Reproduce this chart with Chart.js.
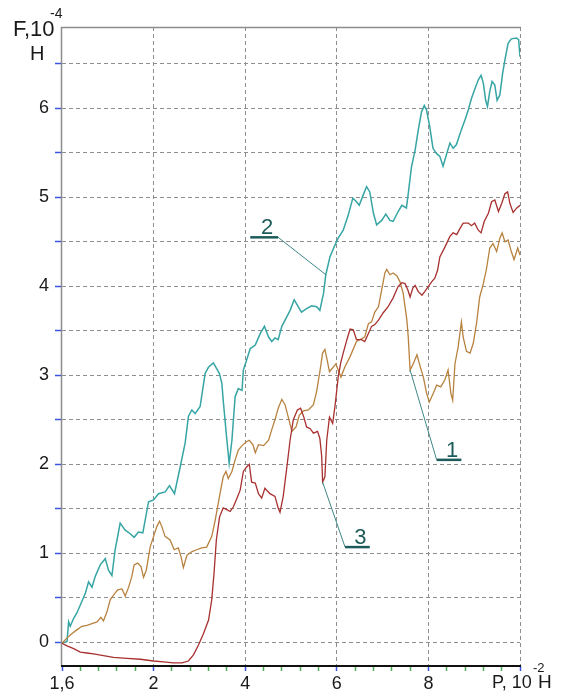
<!DOCTYPE html>
<html>
<head>
<meta charset="utf-8">
<script src="https://cdn.jsdelivr.net/npm/chart.js@4.4.1/dist/chart.umd.min.js"></script>
<style>
html,body{margin:0;padding:0;background:#fff;}
canvas{display:block;}
</style>
</head>
<body>
<canvas id="c" width="564" height="693"></canvas>
<script>
// Friction force F (10^-4 N) against load P (10^-2 N), [P, F] pairs.
const curve1 = [
  [1.600,-0.01],[1.622,0.05],[1.644,0.10],[1.665,0.14],[1.687,0.18],[1.709,0.19],[1.731,0.21],[1.753,0.23],
  [1.770,0.28],[1.781,0.24],[1.796,0.34],[1.811,0.48],[1.825,0.53],[1.843,0.59],[1.862,0.60],[1.876,0.52],
  [1.891,0.62],[1.905,0.74],[1.915,0.87],[1.930,0.89],[1.945,0.85],[1.956,0.73],[1.968,0.81],[1.985,1.07],
  [2.000,1.19],[2.07,1.30],[2.13,1.36],[2.18,1.30],[2.25,1.19],[2.36,1.15],[2.45,1.04],[2.54,1.06],
  [2.60,0.96],[2.65,0.84],[2.73,0.98],[2.84,1.02],[2.94,1.04],[3.05,1.06],[3.16,1.07],[3.27,1.19],
  [3.34,1.36],[3.45,1.67],[3.52,1.86],[3.58,1.92],[3.63,1.84],[3.71,1.92],[3.78,2.05],[3.85,2.16],
  [3.93,2.21],[4.02,2.25],[4.09,2.27],[4.17,2.22],[4.22,2.13],[4.29,2.22],[4.40,2.21],[4.51,2.27],
  [4.58,2.39],[4.65,2.50],[4.72,2.63],[4.80,2.73],[4.87,2.67],[4.94,2.53],[5.02,2.37],[5.11,2.42],
  [5.18,2.55],[5.27,2.60],[5.38,2.61],[5.49,2.67],[5.56,2.82],[5.63,3.04],[5.69,3.25],[5.74,3.29],
  [5.79,3.17],[5.84,3.04],[5.92,3.09],[5.98,3.13],[6.03,3.06],[6.09,2.98],[6.18,3.10],[6.29,3.21],
  [6.43,3.38],[6.61,3.43],[6.69,3.58],[6.76,3.60],[6.83,3.71],[6.91,3.77],[6.98,3.96],[7.05,4.15],
  [7.09,4.19],[7.16,4.13],[7.23,4.15],[7.31,4.12],[7.38,4.05],[7.45,3.92],[7.53,3.62],[7.56,3.43],
  [7.60,3.06],[7.67,3.13],[7.75,3.23],[7.82,3.10],[7.89,2.98],[7.96,2.80],[8.02,2.70],[8.11,2.80],
  [8.18,2.89],[8.27,2.87],[8.36,2.95],[8.43,3.06],[8.49,2.80],[8.53,2.72],[8.58,3.13],[8.65,3.32],
  [8.72,3.60],[8.76,3.43],[8.83,3.27],[8.91,3.25],[8.98,3.36],[9.05,3.58],[9.12,3.88],[9.20,4.03],
  [9.27,4.20],[9.34,4.43],[9.41,4.48],[9.49,4.39],[9.56,4.54],[9.61,4.60],[9.67,4.50],[9.74,4.52],
  [9.81,4.39],[9.87,4.30],[9.95,4.43],[10.00,4.35]
];

const curve2 = [
  [1.600,-0.01],[1.622,0.01],[1.629,0.23],[1.636,0.18],[1.651,0.27],[1.665,0.33],[1.680,0.42],[1.702,0.55],
  [1.716,0.68],[1.731,0.62],[1.745,0.74],[1.767,0.87],[1.789,0.94],[1.803,0.81],[1.818,0.75],[1.832,1.04],
  [1.854,1.34],[1.876,1.26],[1.898,1.22],[1.915,1.18],[1.934,1.24],[1.953,1.23],[1.978,1.58],[2.000,1.60],
  [2.107,1.67],[2.253,1.69],[2.347,1.76],[2.456,1.67],[2.580,1.97],[2.689,2.24],[2.761,2.54],[2.835,2.61],
  [2.907,2.57],[3.016,2.65],[3.125,3.02],[3.197,3.09],[3.306,3.14],[3.437,3.02],[3.49,2.91],[3.52,2.72],
  [3.60,2.27],[3.65,2.01],[3.71,2.27],[3.78,2.76],[3.85,2.85],[3.93,2.83],[3.96,3.06],[4.03,3.17],
  [4.11,3.30],[4.22,3.34],[4.33,3.47],[4.42,3.55],[4.51,3.43],[4.58,3.38],[4.65,3.42],[4.72,3.40],
  [4.80,3.55],[4.91,3.66],[4.98,3.73],[5.07,3.85],[5.16,3.77],[5.23,3.71],[5.34,3.75],[5.45,3.78],
  [5.56,3.77],[5.63,3.73],[5.71,3.92],[5.76,4.13],[5.85,4.33],[5.94,4.44],[6.03,4.54],[6.14,4.63],
  [6.25,4.80],[6.35,4.99],[6.43,4.95],[6.49,4.91],[6.58,5.03],[6.65,5.12],[6.72,5.06],[6.80,4.82],
  [6.87,4.69],[6.98,4.74],[7.07,4.81],[7.16,4.74],[7.23,4.73],[7.34,4.84],[7.42,4.91],[7.52,4.88],
  [7.56,5.04],[7.63,5.34],[7.71,5.53],[7.78,5.76],[7.85,5.96],[7.91,6.03],[7.96,5.98],[8.03,5.79],
  [8.10,5.55],[8.18,5.49],[8.25,5.46],[8.32,5.35],[8.40,5.49],[8.47,5.61],[8.54,5.55],[8.61,5.59],
  [8.72,5.76],[8.80,5.87],[8.87,5.98],[8.94,6.11],[9.01,6.21],[9.09,6.32],[9.15,6.37],[9.20,6.28],
  [9.25,6.09],[9.29,6.02],[9.34,6.19],[9.39,6.30],[9.45,6.26],[9.50,6.09],[9.56,6.15],[9.62,6.39],
  [9.67,6.54],[9.74,6.73],[9.81,6.78],[9.92,6.79],[9.97,6.77],[10.00,6.58]
];

const curve3 = [
  [1.600,-0.01],[1.622,-0.04],[1.651,-0.07],[1.680,-0.11],[1.709,-0.12],[1.738,-0.13],[1.781,-0.15],[1.825,-0.17],
  [1.884,-0.18],[1.942,-0.19],[2.00,-0.21],[2.22,-0.22],[2.43,-0.23],[2.62,-0.23],[2.76,-0.21],[2.87,-0.14],
  [2.98,-0.03],[3.09,0.10],[3.20,0.25],[3.27,0.48],[3.32,0.78],[3.37,1.15],[3.44,1.41],[3.52,1.51],
  [3.60,1.49],[3.67,1.47],[3.74,1.52],[3.82,1.62],[3.89,1.71],[3.96,1.92],[4.03,1.97],[4.09,2.00],
  [4.14,1.80],[4.22,1.79],[4.29,1.67],[4.36,1.62],[4.43,1.73],[4.54,1.67],[4.65,1.64],[4.72,1.51],
  [4.76,1.46],[4.83,1.64],[4.91,1.97],[4.98,2.27],[5.05,2.50],[5.14,2.61],[5.21,2.63],[5.28,2.53],
  [5.34,2.42],[5.42,2.40],[5.49,2.35],[5.58,2.37],[5.63,2.29],[5.67,2.09],[5.69,1.80],[5.74,1.86],
  [5.78,2.27],[5.84,2.53],[5.91,2.46],[5.96,2.65],[6.03,2.98],[6.09,3.15],[6.14,3.25],[6.22,3.40],
  [6.29,3.52],[6.36,3.51],[6.43,3.40],[6.54,3.40],[6.61,3.38],[6.69,3.47],[6.76,3.55],[6.83,3.57],
  [6.91,3.62],[7.01,3.70],[7.12,3.77],[7.23,3.87],[7.34,4.00],[7.42,4.04],[7.49,4.03],[7.55,3.96],
  [7.60,3.88],[7.66,3.98],[7.71,4.01],[7.78,3.94],[7.86,3.90],[7.92,3.94],[8.00,4.00],[8.07,4.05],
  [8.14,4.09],[8.20,4.18],[8.25,4.33],[8.36,4.44],[8.47,4.56],[8.54,4.60],[8.62,4.58],[8.69,4.65],
  [8.76,4.71],[8.87,4.71],[8.94,4.68],[9.01,4.71],[9.09,4.63],[9.15,4.60],[9.22,4.73],[9.31,4.82],
  [9.38,4.95],[9.45,4.97],[9.53,4.84],[9.60,4.93],[9.67,5.04],[9.73,5.06],[9.78,4.93],[9.85,4.83],
  [9.93,4.88],[10.00,4.91]
];

// Major divisions of the P axis (the first one spans 1.6..2, the rest 2 units each)
const xTickValues = [1.6, 2, 4, 6, 8, 10];
const xTickLabels = ['1,6', '2', '4', '6', '8', ''];
const xMinorPerDivision = 5;

const yTickValues = [0, 0.5, 1, 1.5, 2, 2.5, 3, 3.5, 4, 4.5, 5, 5.5, 6, 6.5];
const yTickLabels = ['0', '', '1', '', '2', '', '3', '', '4', '', '5', '', '6', ''];

// Curve number labels: underline ends and the point on the curve they point to
const callouts = [
  { text: '2', from: [4.11, 4.55], to: [4.72, 4.55], target: [5.76, 4.13] },
  { text: '1', from: [8.18, 2.05], to: [8.72, 2.05], target: [7.60, 3.06] },
  { text: '3', from: [6.18, 1.07], to: [6.72, 1.07], target: [5.69, 1.80] }
];

// Piecewise mapping of P onto evenly spaced axis divisions
function pToAxis(p) {
  const n = xTickValues.length;
  for (let i = 1; i < n; i++) {
    if (p <= xTickValues[i] || i === n - 1) {
      const a = xTickValues[i - 1], b = xTickValues[i];
      return (i - 1) + (p - a) / (b - a);
    }
  }
}

const xAxisPositions = [];
for (let i = 0; i < xTickValues.length - 1; i++) {
  for (let k = 0; k < xMinorPerDivision; k++) xAxisPositions.push(i + k / xMinorPerDivision);
}
xAxisPositions.push(xTickValues.length - 1);

const isMajor = v => Math.abs(v - Math.round(v)) < 1e-6;
const toPoints = arr => arr.map(([p, f]) => ({ x: pToAxis(p), y: f }));

const FONT = "'Liberation Sans', Arial, sans-serif";
Chart.defaults.font.family = FONT;

const frame = {
  id: 'frame',
  beforeDatasetsDraw(chart) {
    const { ctx, chartArea: a } = chart;
    ctx.save();
    ctx.setLineDash([]);
    // top edge and left axis, solid grey
    ctx.strokeStyle = '#8c8c8c';
    ctx.lineWidth = 1.5;
    ctx.beginPath();
    ctx.moveTo(a.right + 1, a.top + 0.5);
    ctx.lineTo(a.left - 0.5, a.top + 0.5);
    ctx.lineTo(a.left - 0.5, a.bottom);
    ctx.stroke();
    ctx.restore();
  },
  afterDraw(chart) {
    const { ctx, scales, chartArea: a } = chart;
    const px = (p) => scales.x.getPixelForValue(pToAxis(p));
    const py = (f) => scales.y.getPixelForValue(f);

    ctx.save();
    ctx.setLineDash([]);
    // bottom axis, solid dark
    ctx.strokeStyle = '#111';
    ctx.lineWidth = 2;
    ctx.beginPath();
    ctx.moveTo(a.left - 1, a.bottom);
    ctx.lineTo(a.right + 1, a.bottom);
    ctx.stroke();

    // curve number callouts
    callouts.forEach(c => {
      const x1 = px(c.from[0]), x2 = px(c.to[0]), y = py(c.from[1]);
      const tx = px(c.target[0]), ty = py(c.target[1]);
      const jx = Math.abs(tx - x1) < Math.abs(tx - x2) ? x1 : x2;
      ctx.strokeStyle = '#3f8686';
      ctx.lineWidth = 1;
      ctx.beginPath();
      ctx.moveTo(jx, y);
      ctx.lineTo(tx, ty);
      ctx.stroke();
      ctx.strokeStyle = '#1d5b5b';
      ctx.lineWidth = 2.5;
      ctx.beginPath();
      ctx.moveTo(x1, y);
      ctx.lineTo(x2, y);
      ctx.stroke();
      ctx.fillStyle = '#1d5b5b';
      ctx.font = '22px ' + FONT;
      ctx.textAlign = 'center';
      ctx.textBaseline = 'alphabetic';
      ctx.fillText(c.text, (x1 + x2) / 2 + 3, y - 3);
    });

    // axis titles
    ctx.fillStyle = '#1a1a1a';
    ctx.textAlign = 'left';
    ctx.textBaseline = 'alphabetic';
    ctx.font = '22px ' + FONT;
    ctx.fillText('F,10', 13, 36);
    ctx.font = '14px ' + FONT;
    ctx.fillText('-4', 50, 18);
    ctx.font = '20px ' + FONT;
    ctx.fillText('Н', 30, 60);

    ctx.font = '18px ' + FONT;
    ctx.fillText('P, 10', 492, 688);
    ctx.font = '13px ' + FONT;
    ctx.fillText('-2', 533, 672);
    ctx.font = '19px ' + FONT;
    ctx.fillText('Н', 538, 688);
    ctx.restore();
  }
};

new Chart(document.getElementById('c'), {
  type: 'line',
  data: {
    datasets: [
      { label: '2', data: toPoints(curve2), borderColor: '#36a5a4', borderWidth: 1.5, order: 3 },
      { label: '1', data: toPoints(curve1), borderColor: '#b8823e', borderWidth: 1.3, order: 2 },
      { label: '3', data: toPoints(curve3), borderColor: '#a8302f', borderWidth: 1.3, order: 1 }
    ]
  },
  options: {
    responsive: false,
    animation: false,
    parsing: false,
    elements: { point: { radius: 0 }, line: { tension: 0, fill: false } },
    layout: { padding: { top: 27, right: 44, left: 0, bottom: 0 } },
    plugins: { legend: { display: false }, tooltip: { enabled: false } },
    scales: {
      x: {
        type: 'linear',
        min: 0,
        max: xTickValues.length - 1,
        afterBuildTicks: s => { s.ticks = xAxisPositions.map(v => ({ value: v })); },
        afterFit: s => { s.height = 27; },
        grid: {
          color: c => (isMajor(c.tick.value) && c.tick.value > 0) ? '#8e8e8e' : 'rgba(0,0,0,0)',
          tickColor: c => isMajor(c.tick.value) ? '#3a55e6' : '#4caf50',
          tickLength: 5,
          lineWidth: 1,
          tickWidth: 1.5
        },
        border: { display: false, dash: [4, 3] },
        ticks: {
          autoSkip: false,
          maxRotation: 0,
          minRotation: 0,
          padding: 2,
          color: '#1a1a1a',
          font: { size: 18 },
          callback: v => isMajor(v) ? xTickLabels[Math.round(v)] : ''
        }
      },
      y: {
        type: 'linear',
        min: -0.266,
        max: 6.913,
        afterBuildTicks: s => { s.ticks = yTickValues.map(v => ({ value: v })); },
        afterFit: s => { s.width = 62; },
        grid: {
          color: '#8e8e8e',
          tickColor: '#3a55e6',
          tickLength: 7,
          lineWidth: 1,
          tickWidth: 1.5
        },
        border: { display: false, dash: [4, 3] },
        ticks: {
          autoSkip: false,
          padding: 6,
          color: '#1a1a1a',
          font: { size: 18 },
          callback: (v) => yTickLabels[yTickValues.indexOf(v)] ?? ''
        }
      }
    }
  },
  plugins: [frame]
});
</script>
</body>
</html>
